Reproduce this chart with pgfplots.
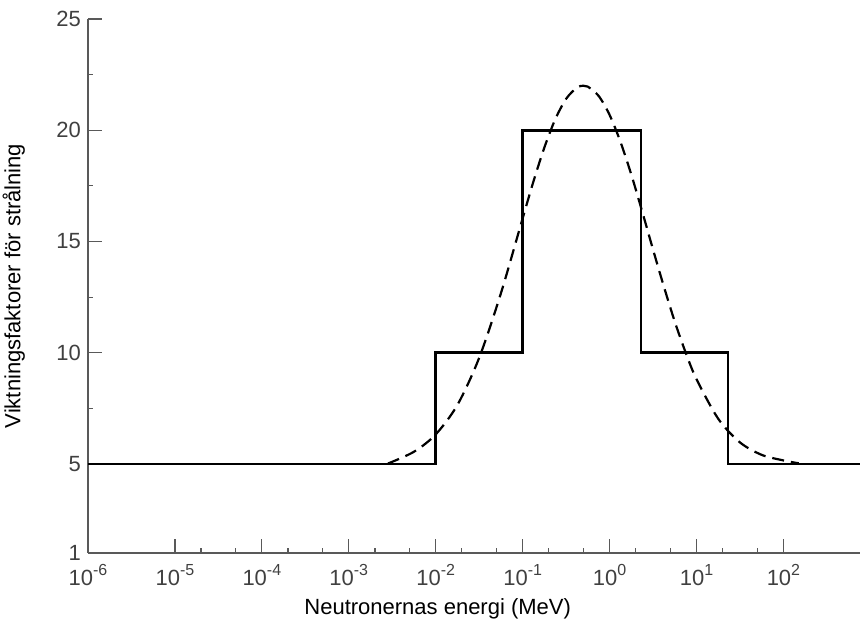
\documentclass[border=0pt]{standalone}
\usepackage{pgfplots}
\pgfplotsset{compat=1.18}
\usepackage{fontspec}
\setmainfont{Liberation Sans}

% 10 with a raised exponent, set in the text font
\newcommand{\ex}[1]{10\raisebox{0.9ex}{\fontsize{8}{8}\selectfont #1}}

\begin{document}
\begin{tikzpicture}
\begin{axis}[
  name=ax,
  scale only axis,
  width=386pt, height=267pt,
  xmode=log,
  xmin=1e-6, xmax=760,
  ymin=1, ymax=25,
  axis lines=left,
  axis line style={-, black!65, line width=0.7pt},
  tick align=inside,
  major tick length=7pt,
  minor tick length=2.5pt,
  tick style={black!65, line width=0.6pt},
  xtick={1e-6,1e-5,1e-4,1e-3,1e-2,1e-1,1,10,100},
  xticklabels={\ex{-6},\ex{-5},\ex{-4},\ex{-3},\ex{-2},\ex{-1},\ex{0},\ex{1},\ex{2}},
  minor xtick={2e-5,5e-5,2e-4,5e-4,2e-3,5e-3,2e-2,5e-2,0.2,0.5,2,5,20,50},
  ytick={1,5,10,15,20,25},
  yticklabels={1,5,10,15,20,25},
  minor ytick={7.5,12.5,17.5,22.5},
  ticklabel style={font=\fontsize{11}{13}\selectfont, text=black!75},
  xticklabel style={yshift=-2pt},
  xlabel={Neutronernas energi (MeV)},
  ylabel={Viktningsfaktorer för strålning},
  label style={font=\fontsize{11}{13}\selectfont},
  x label style={at={(axis description cs:0.453,-0.105)}, anchor=center},
  y label style={at={(axis description cs:-0.096,0.5)}, anchor=center},
  clip=false,
]
% step values
\addplot[black, line width=1.3pt] coordinates {
  (1e-6,5) (1e-2,5) (1e-2,10) (1e-1,10) (1e-1,20)
  (2.3,20) (2.3,10) (23,10) (23,5) (760,5)
};
% continuous curve (dashed)
\addplot[black, line width=1.1pt, dash pattern=on 6pt off 3.5pt, smooth] coordinates {
  (0.00282,5.02) (0.00562,5.55) (0.01,6.33) (0.0178,7.66) (0.0316,9.77)
  (0.0562,12.67) (0.1,16.04) (0.1334,17.71) (0.178,19.23) (0.237,20.49)
  (0.316,21.41) (0.4217,21.92) (0.5,22.0) (0.562,21.96) (0.75,21.54)
  (1.0,20.69) (1.334,19.48) (1.78,18.0) (2.371,16.35) (3.16,14.64)
  (4.217,12.97) (5.62,11.40) (7.5,10.01) (10,8.81) (17.8,7.03)
  (31.6,5.97) (56.2,5.41) (100,5.16) (150,5.03)
};
\end{axis}
\pgfresetboundingbox
\path ([xshift=-44pt,yshift=-43pt]ax.south west) rectangle ([yshift=9.5pt]ax.north east);
\end{tikzpicture}
\end{document}
